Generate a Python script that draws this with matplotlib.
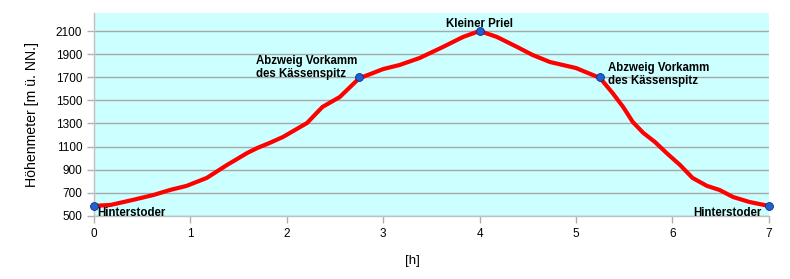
import numpy as np
import matplotlib.pyplot as plt

# Wegzeit [h] und Höhe [m]
hours = [0.0, 0.17, 0.4, 0.62, 0.79, 0.96, 1.17, 1.38, 1.59, 1.70, 1.82, 1.96,
         2.21, 2.37, 2.55, 2.75, 3.0, 3.17, 3.38, 3.62, 3.83, 4.0, 4.18, 4.39,
         4.55, 4.73, 5.0, 5.25, 5.38, 5.49, 5.59, 5.7, 5.82, 5.94, 6.08, 6.21,
         6.36, 6.49, 6.63, 6.8, 7.0]
height = [587, 595, 638, 682, 725, 760, 829, 941, 1045, 1090, 1131, 1183,
          1304, 1443, 1529, 1690, 1771, 1806, 1867, 1962, 2049, 2100, 2049, 1962,
          1893, 1832, 1780, 1694, 1564, 1443, 1313, 1218, 1140, 1045, 941, 829,
          760, 725, 664, 621, 587]

wp_hours = [0.0, 2.75, 4.0, 5.25, 7.0]
wp_height = [590, 1700, 2100, 1700, 590]
wp_names = ["Hinterstoder", "Abzweig Vorkamm\ndes Kässenspitz", "Kleiner Priel",
            "Abzweig Vorkamm\ndes Kässenspitz", "Hinterstoder"]
wp_offsets = [(2, -1), (-1, -2), (0, 1), (6, 2), (-5, -1)]
wp_align = [("left", "top"), ("right", "bottom"), ("center", "bottom"),
            ("left", "center"), ("right", "top")]

yticks = list(range(500, 2101, 200))
xticks = list(range(0, 8))

plt.rcParams['font.family'] = ['Liberation Sans', 'DejaVu Sans']

fig = plt.figure(figsize=(7.9, 2.79), dpi=100)
ax = fig.add_axes([0.119, 0.226, 0.854, 0.727])
ax.set_facecolor('#ccffff')

ax.plot(hours, height, color='#ff0000', lw=3.0, solid_capstyle='round', zorder=3)
ax.scatter(wp_hours, wp_height, s=32, color='#1f5fd0', edgecolors='#0a2f80',
           linewidths=0.6, zorder=4, clip_on=False)

for h, z, name, off, al in zip(wp_hours, wp_height, wp_names, wp_offsets, wp_align):
    ax.annotate(name, (h, z), xytext=off, textcoords='offset points',
                ha=al[0], va=al[1], multialignment='left', fontsize=8.3,
                fontweight='bold', linespacing=1.15, zorder=5)

ax.set_xlim(0, 7)
ax.set_ylim(500, 2255)
ax.set_xticks(xticks)
ax.set_yticks(yticks)
ax.tick_params(axis='both', labelsize=8.5, color='#b0b0b0', length=5, width=1)
ax.yaxis.grid(True, color='#a8a8a8', lw=1)
ax.set_axisbelow(True)

for side in ['top', 'right']:
    ax.spines[side].set_visible(False)
for side in ['left', 'bottom']:
    ax.spines[side].set_color('#c0c0c0')
    ax.spines[side].set_linewidth(1)

ax.set_ylabel('Höhenmeter [m ü. NN.]', fontsize=10.2, labelpad=12)
fig.text(0.522, 0.065, '[h]', fontsize=9.5, ha='center', va='center')

fig.savefig('out.png', dpi=100)
